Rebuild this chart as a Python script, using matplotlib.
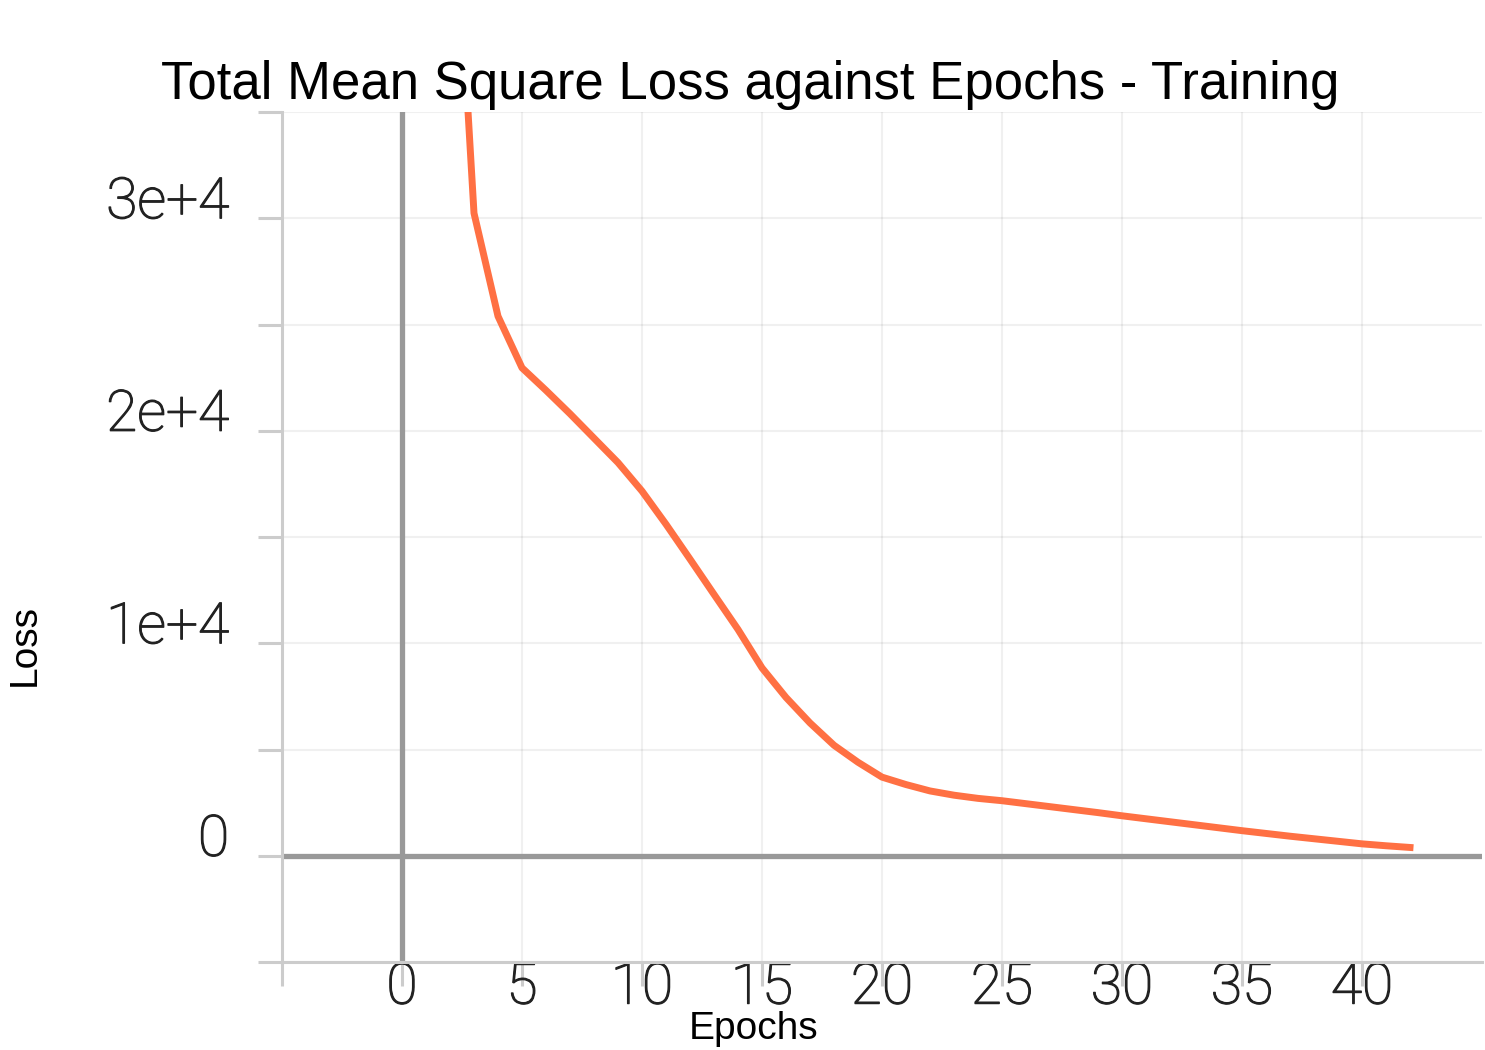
import numpy as np
import matplotlib
matplotlib.use('Agg')
import matplotlib.pyplot as plt
import matplotlib.patheffects as pe

# training loss per epoch
epochs = [2, 3, 4, 5, 6, 7, 8, 9, 10, 11, 12, 13, 14, 15, 16, 17, 18, 19, 20,
          21, 22, 23, 24, 25, 26, 27, 28, 29, 30, 31, 32, 33, 34, 35,
          36, 37, 38, 39, 40, 41, 42]
loss = [49400, 30240, 25390, 22960, 21900, 20800, 19650, 18500, 17160, 15600,
        13960, 12300, 10650, 8840, 7450, 6250, 5200, 4400, 3700,
        3350, 3050, 2850, 2700, 2590, 2450, 2310, 2170, 2030, 1880,
        1740, 1600, 1460, 1320, 1180, 1050, 920, 800, 680, 560, 470, 390]

xticks = [-5, 0, 5, 10, 15, 20, 25, 30, 35, 40]
xticklabels = ['', '0', '5', '10', '15', '20', '25', '30', '35', '40']
yticks = [-5000, 0, 5000, 10000, 15000, 20000, 25000, 30000, 35000]
yticklabels = ['', '0', '', '1e+4', '', '2e+4', '', '3e+4', '']

fig = plt.figure(figsize=(14.85, 10.5), dpi=100)
ax = fig.add_axes([282/1485, 1 - 962/1050, 1200/1485, 850/1050])

ax.grid(True, color='black', alpha=0.06, linewidth=1.5)
ax.axhline(0, color='#999999', linewidth=3.8, zorder=2)
ax.axvline(0, color='#999999', linewidth=3.8, zorder=2)
ax.plot(epochs, loss, color='#FF7043', linewidth=5, zorder=3)

ax.set_xlim(-5, 45)
ax.set_ylim(-5000, 35000)
ax.set_xticks(xticks)
ax.set_xticklabels(xticklabels)
ax.set_yticks(yticks)
ax.set_yticklabels(yticklabels)

for s in ['top', 'right']:
    ax.spines[s].set_visible(False)
for s in ['left', 'bottom']:
    ax.spines[s].set_color('#cccccc')
    ax.spines[s].set_linewidth(2.2)

ax.tick_params(axis='both', length=17, width=2.2, color='#cccccc',
               labelcolor='#222222', labelsize=41)
ax.tick_params(axis='x', pad=-18)
ax.tick_params(axis='y', pad=21)
for lab in ax.get_xticklabels() + ax.get_yticklabels():
    lab.set_family(['Roboto', 'DejaVu Sans'])
    lab.set_fontweight('light')
    lab.set_path_effects([pe.withStroke(linewidth=0.9, foreground='#222222')])
for lab in ax.get_yticklabels():
    lab.set_verticalalignment('baseline')

ax.set_xlabel('Epochs', fontsize=28, family='Liberation Sans')
ax.set_ylabel('Loss', fontsize=28, family='Liberation Sans')
ax.xaxis.set_label_coords((754 - 282) / 1200, -0.0575)
ax.yaxis.set_label_coords(-0.199, (962 - 645) / 850)

fig.text(750/1485, 1 - 99/1050, 'Total Mean Square Loss against Epochs - Training',
         ha='center', va='baseline', fontsize=38, family='Liberation Sans')

fig.savefig('out.png', dpi=100)
